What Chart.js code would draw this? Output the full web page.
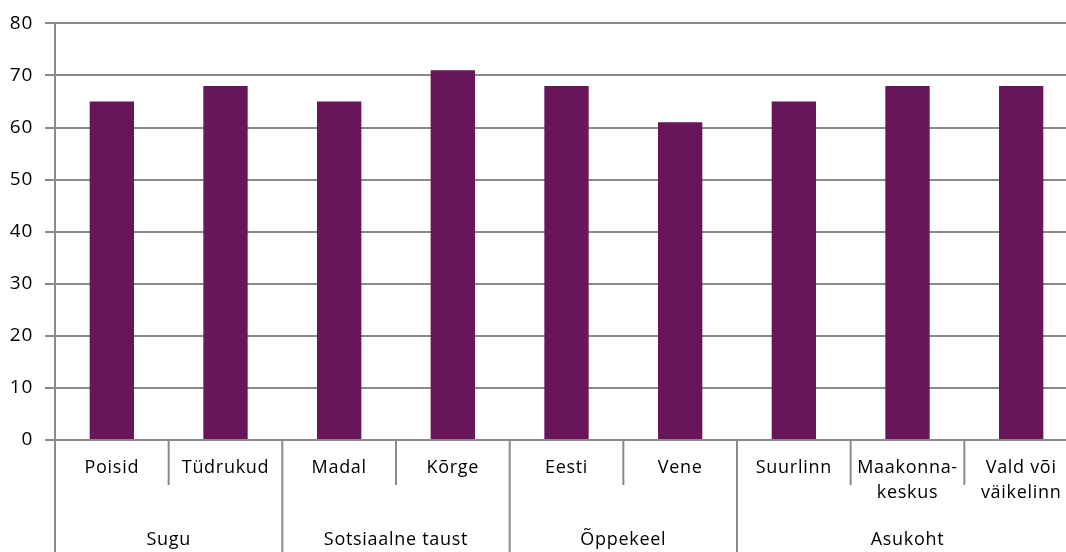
<!DOCTYPE html>
<html>
<head>
<meta charset="utf-8">
<script src="https://cdn.jsdelivr.net/npm/chart.js@4"></script>
<style>
  html, body { margin: 0; padding: 0; background: #fff; overflow: hidden; }
  #wrap { width: 1078px; height: 552px; position: relative; }
</style>
</head>
<body>
<div id="wrap"><canvas id="chart"></canvas></div>
<script>
// andmed
var categories = ["Poisid", "Tüdrukud", "Madal", "Kõrge", "Eesti", "Vene", "Suurlinn", ["Maakonna-", "keskus"], ["Vald või", "väikelinn"]];
var values = [65, 68, 65, 71, 68, 61, 65, 68, 68];
var groups = ["Sugu", "Sotsiaalne taust", "Õppekeel", "Asukoht"];
var groupSizes = [2, 2, 2, 3];
var yTicks = [0, 10, 20, 30, 40, 50, 60, 70, 80];

var gridColor = "#8a8a8a";
var fontFamily = "'Open Sans', sans-serif";

// veidi hõredam tekst nagu originaalis
var spacing = {
  id: "spacing",
  beforeDraw: function (chart) {
    chart.ctx.letterSpacing = "0.7px";
  }
};

// kahetasemelise x-telje jooned ja grupinimed
var groupAxis = {
  id: "groupAxis",
  afterDraw: function (chart) {
    var ctx = chart.ctx;
    var area = chart.chartArea;
    var n = categories.length;
    var w = (area.right - area.left) / n;
    var bottom = chart.height;
    ctx.save();
    ctx.strokeStyle = gridColor;
    ctx.lineWidth = 2;
    // grupipiirid
    var starts = [0];
    var idx = 0;
    for (var g = 0; g < groupSizes.length; g++) {
      idx += groupSizes[g];
      starts.push(idx);
    }
    for (var i = 0; i <= n; i++) {
      var x = area.left + i * w;
      var isGroup = starts.indexOf(i) >= 0;
      ctx.beginPath();
      ctx.moveTo(x, area.bottom);
      ctx.lineTo(x, isGroup ? bottom : area.bottom + 45);
      ctx.stroke();
    }
    // grupinimed
    ctx.fillStyle = "#000";
    ctx.font = "18px " + fontFamily;
    ctx.letterSpacing = "0.7px";
    ctx.textAlign = "center";
    ctx.textBaseline = "middle";
    for (var g = 0; g < groups.length; g++) {
      var cx = area.left + (starts[g] + starts[g + 1]) / 2 * w;
      ctx.fillText(groups[g], cx, area.bottom + 100);
    }
    ctx.restore();
  }
};

var ctx = document.getElementById("chart").getContext("2d");
var Grafik = new Chart(ctx, {
  type: "bar",
  data: {
    labels: categories,
    datasets: [
      {
        data: values,
        backgroundColor: "#69155c",
        borderWidth: 0,
        barPercentage: 0.39,
        categoryPercentage: 1,
      },
    ],
  },
  options: {
    responsive: true,
    maintainAspectRatio: false,
    animation: false,
    layout: { padding: { top: 23, right: 0, left: 0, bottom: 0 } },
    plugins: {
      legend: { display: false },
      tooltip: { enabled: false },
    },
    scales: {
      y: {
        min: 0,
        max: 80,
        afterBuildTicks: function (scale) {
          scale.ticks = yTicks.map(function (v) { return { value: v }; });
        },
        afterFit: function (scale) { scale.width = 55; },
        grid: {
          color: gridColor,
          lineWidth: 2,
          tickLength: 10,
          drawTicks: true,
        },
        border: { color: gridColor, width: 2 },
        ticks: {
          color: "#000",
          padding: 12,
          font: { family: fontFamily, size: 19 },
        },
      },
      x: {
        afterFit: function (scale) { scale.height = 112; },
        grid: { display: false },
        border: { color: gridColor, width: 2 },
        ticks: {
          color: "#000",
          padding: 7,
          maxRotation: 0,
          autoSkip: false,
          font: { family: fontFamily, size: 18, lineHeight: 1.4 },
        },
      },
    },
  },
  plugins: [spacing, groupAxis],
});
</script>
</body>
</html>
